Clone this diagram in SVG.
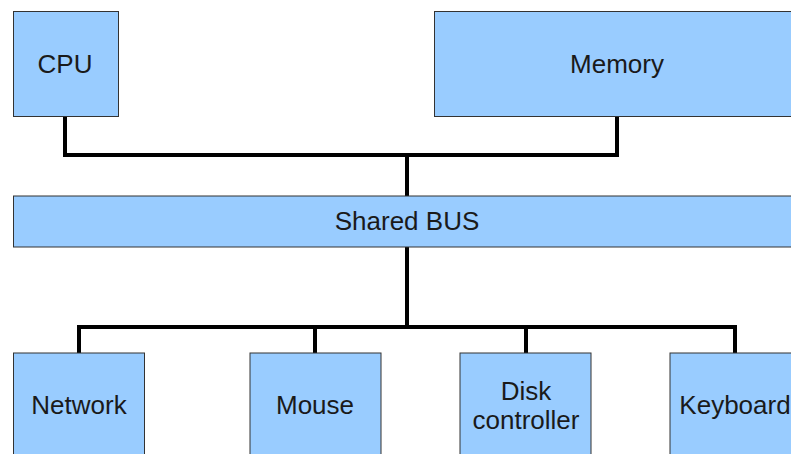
<svg xmlns="http://www.w3.org/2000/svg" width="791" height="454" viewBox="0 0 791 454">
<style>
.box{fill:#99ccff;stroke:#333333;stroke-width:1}
.lbl{font-family:"Liberation Sans",Arial,sans-serif;font-size:26px;fill:#1a1a1a;text-anchor:middle}
.wire{fill:none;stroke:#000000;stroke-width:4;stroke-linejoin:miter}
</style>
<rect width="791" height="454" fill="#ffffff"/>
<g id="connectors">
<polyline class="wire" points="65,116 65,155 617,155 617,116"/>
<line class="wire" x1="407" y1="155" x2="407" y2="196"/>
<line class="wire" x1="407" y1="247" x2="407" y2="327"/>
<polyline class="wire" points="79,353 79,327 735,327 735,353"/>
<line class="wire" x1="315" y1="327" x2="315" y2="353"/>
<line class="wire" x1="526" y1="327" x2="526" y2="353"/>
</g>
<g id="cpu"><rect class="box" x="13.5" y="11.5" width="105" height="105"/><text class="lbl" x="65" y="73">CPU</text></g>
<g id="memory"><rect class="box" x="434.5" y="11.5" width="366" height="105"/><text class="lbl" x="617" y="73">Memory</text></g>
<g id="bus"><rect class="box" x="13.5" y="196" width="788" height="51"/><text class="lbl" x="407" y="230">Shared BUS</text></g>
<g id="network"><rect class="box" x="13.5" y="353" width="131" height="105"/><text class="lbl" x="79" y="414">Network</text></g>
<g id="mouse"><rect class="box" x="250" y="353" width="131" height="105"/><text class="lbl" x="315" y="414">Mouse</text></g>
<g id="disk"><rect class="box" x="460" y="353" width="131" height="105"/><text class="lbl" x="526" y="400">Disk</text><text class="lbl" x="526" y="429">controller</text></g>
<g id="keyboard"><rect class="box" x="670" y="353" width="131" height="105"/><text class="lbl" x="735" y="414">Keyboard</text></g>
</svg>
